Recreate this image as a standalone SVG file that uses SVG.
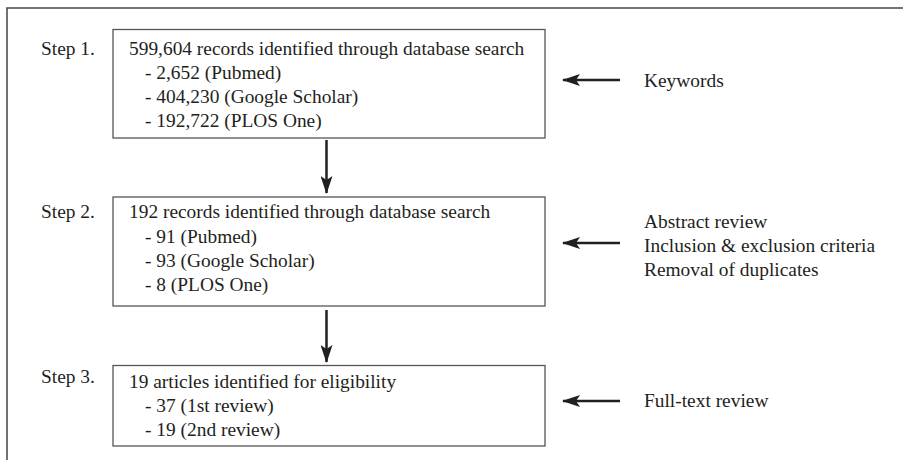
<svg xmlns="http://www.w3.org/2000/svg" width="903" height="460" viewBox="0 0 903 460">
<style>
text{font-family:"Liberation Serif","Times New Roman",serif;font-size:19.4px;fill:#231f20}
.box{fill:#fff;stroke:#555;stroke-width:1.3}
.frame{fill:none;stroke:#444;stroke-width:1.5}
.conn{stroke:#231f20;stroke-width:2.5;fill:none}
</style>
<defs>
<marker id="ah" markerWidth="18" markerHeight="12" refX="17" refY="6" orient="auto" markerUnits="userSpaceOnUse">
<path d="M0,0 L18,6 L0,12 L4,6 Z" fill="#231f20"/>
</marker>
</defs>
<rect width="903" height="460" fill="#fff"/>
<path class="frame" d="M7,460 V8 H903"/>
<g id="step1">
<text x="41" y="55">Step 1.</text>
<rect class="box" x="113" y="29.5" width="432" height="108.5"/>
<text x="129" y="55">599,604 records identified through database search</text>
<text x="145" y="79">- 2,652 (Pubmed)</text>
<text x="145" y="103">- 404,230 (Google Scholar)</text>
<text x="145" y="127">- 192,722 (PLOS One)</text>
</g>
<g id="step2">
<text x="41" y="218">Step 2.</text>
<rect class="box" x="113" y="197" width="432" height="109"/>
<text x="129" y="218">192 records identified through database search</text>
<text x="145" y="243">- 91 (Pubmed)</text>
<text x="145" y="267">- 93 (Google Scholar)</text>
<text x="145" y="291">- 8 (PLOS One)</text>
</g>
<g id="step3">
<text x="41" y="383">Step 3.</text>
<rect class="box" x="113" y="365.5" width="432" height="80.5"/>
<text x="129" y="388">19 articles identified for eligibility</text>
<text x="145" y="412">- 37 (1st review)</text>
<text x="145" y="436">- 19 (2nd review)</text>
</g>
<g id="keywords"><text x="644" y="87">Keywords</text></g>
<g id="criteria">
<text x="644" y="228">Abstract review</text>
<text x="644" y="252">Inclusion &amp; exclusion criteria</text>
<text x="644" y="276">Removal of duplicates</text>
</g>
<g id="fulltext"><text x="644" y="407">Full-text review</text></g>
<g id="connectors">
<line class="conn" x1="326.5" y1="140" x2="326.5" y2="193" marker-end="url(#ah)"/>
<line class="conn" x1="326.5" y1="310" x2="326.5" y2="362" marker-end="url(#ah)"/>
<line class="conn" x1="620" y1="80" x2="563" y2="80" marker-end="url(#ah)"/>
<line class="conn" x1="620" y1="243" x2="563" y2="243" marker-end="url(#ah)"/>
<line class="conn" x1="620" y1="401" x2="563" y2="401" marker-end="url(#ah)"/>
</g>
</svg>
